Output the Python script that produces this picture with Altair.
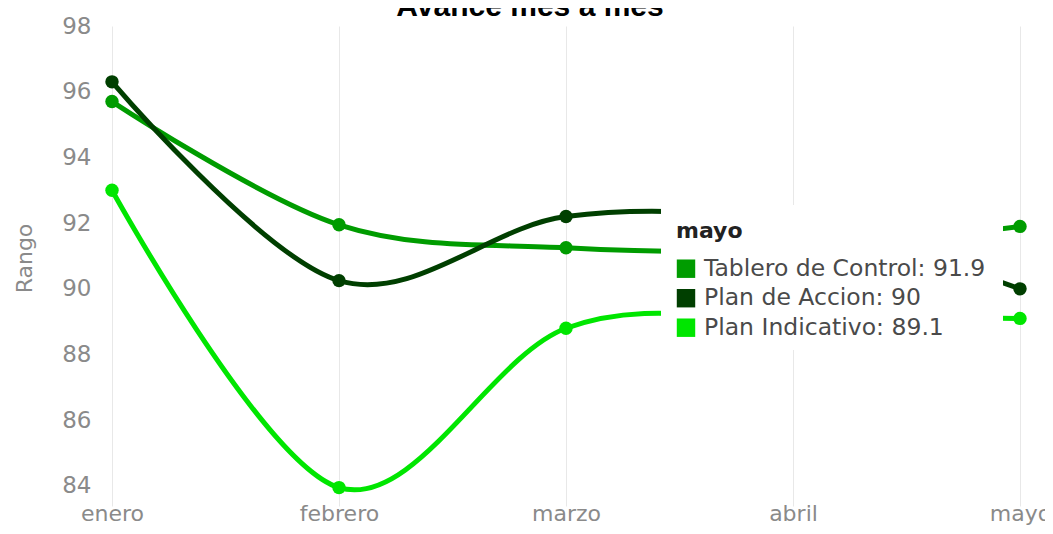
import altair as alt
import pandas as pd

# ---- data ----
meses = ["enero", "febrero", "marzo", "abril", "mayo"]
series = ["Tablero de Control", "Plan de Accion", "Plan Indicativo"]
tablero = [95.7, 91.95, 91.25, 91.2, 91.9]
accion = [96.3, 90.25, 92.2, 92.0, 90.0]
indicativo = [93.0, 83.95, 88.8, 89.1, 89.1]
colores = ["#009c00", "#003f00", "#00e600"]
y_ticks = [84, 86, 88, 90, 92, 94, 96, 98]
titulo = "Avance mes a mes"
tooltip_mes = "mayo"

valores = {"Tablero de Control": tablero, "Plan de Accion": accion, "Plan Indicativo": indicativo}
rows = []
for s in series:
    for m, v in zip(meses, valores[s]):
        rows.append({"mes": m, "serie": s, "valor": v})
df = pd.DataFrame(rows)
one = pd.DataFrame({"k": [0]})

FONT = "DejaVu Sans"
GRAY = "#8a8a8a"

x_enc = alt.X(
    "mes:N", sort=meses,
    scale=alt.Scale(type="point", padding=0),
    axis=alt.Axis(title=None, labelAngle=0, labelFontSize=22, labelColor=GRAY, labelFont=FONT,
                  grid=True, gridColor="#e8e8e8", gridWidth=1, ticks=False, domain=False,
                  labelBaseline="alphabetic", labelPadding=14),
)
y_enc = alt.Y(
    "valor:Q",
    scale=alt.Scale(domain=[83.39, 98], nice=False, zero=False),
    axis=alt.Axis(title="Rango", values=y_ticks, labelFontSize=23, labelColor=GRAY, labelFont=FONT,
                  grid=False, ticks=False, domain=False, labelPadding=21,
                  titleFontSize=22, titleColor=GRAY, titleFont=FONT, titleFontWeight="normal",
                  titleX=-88, titleY=232, titleAlign="center", titleBaseline="middle"),
)
color_enc = alt.Color("serie:N", scale=alt.Scale(domain=series, range=colores), legend=None)

base = alt.Chart(df)
lines = base.mark_line(interpolate="cardinal", strokeWidth=5).encode(
    x=x_enc, y=y_enc, color=color_enc, detail="serie:N")
points = base.mark_circle(size=180, opacity=1).encode(
    x=x_enc, y=y_enc, color=color_enc)

# ---- tooltip overlay (fixed UI box, as in the screenshot) ----
tip_layers = [
    alt.Chart(one).mark_rect(color="white").encode(
        x=alt.value(549), x2=alt.value(891), y=alt.value(179), y2=alt.value(324)),
    alt.Chart(one).mark_text(text=tooltip_mes, align="left", baseline="middle", fontSize=22,
                             fontWeight="bold", font=FONT, color="#222").encode(
        x=alt.value(564), y=alt.value(205)),
]
ultimo = {s: valores[s][-1] for s in series}
for i, (s, c) in enumerate(zip(series, colores)):
    yy = 242.7 + i * 29.5
    tip_layers.append(alt.Chart(one).mark_square(size=340, color=c, opacity=1).encode(
        x=alt.value(574), y=alt.value(yy)))
    tip_layers.append(alt.Chart(one).mark_text(text=f"{s}: {ultimo[s]:g}", align="left",
                                               baseline="middle", fontSize=23.5, font=FONT,
                                               color="#4a4a4a").encode(
        x=alt.value(592), y=alt.value(yy)))

title_mark = alt.Chart(one).mark_text(text=titulo, align="center", baseline="alphabetic",
                                      fontSize=30, fontWeight="bold", font="Liberation Sans",
                                      color="black").encode(x=alt.value(418), y=alt.value(-10))

chart = alt.layer(lines, points, *tip_layers, title_mark).properties(
    width=908, height=480,
    padding={"left": 104, "top": 18, "right": 25, "bottom": 20},
    autosize=alt.AutoSizeParams(type="none"),
).configure_view(stroke=None)

chart.save("out.html", embed_options={"renderer": "svg", "actions": False})
